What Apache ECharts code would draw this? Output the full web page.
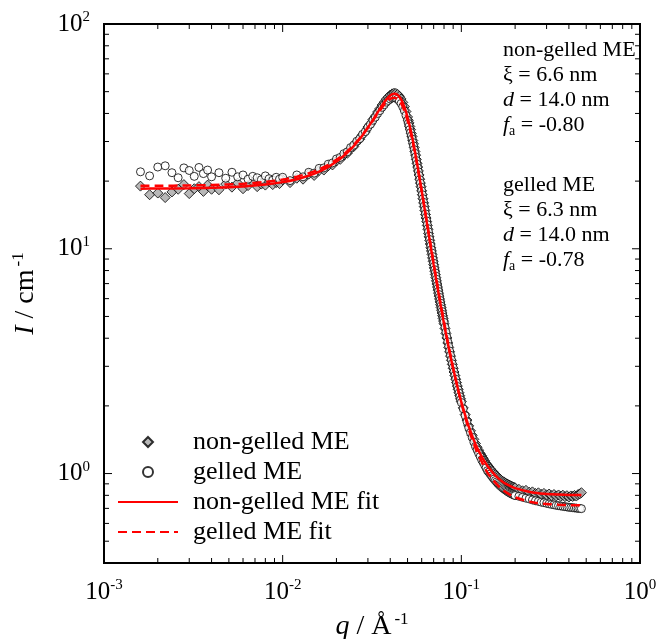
<!DOCTYPE html>
<html>
<head>
<meta charset="utf-8">
<script src="https://cdn.jsdelivr.net/npm/echarts@6.0.0/dist/echarts.min.js"></script>
<style>
  html, body { margin: 0; padding: 0; background: #fff; }
  #chart { width: 659px; height: 639px; }
</style>
</head>
<body>
<div id="chart"></div>
<script>
// measured q (1/Angstrom), same grid for both samples
const qData = [
  0.0016, 0.0018, 0.0020, 0.0022, 0.0024, 0.0026, 0.0028, 0.0030, 0.0032, 0.0034, 0.0036, 0.0038, 0.0040,
  0.0044, 0.0048, 0.0052, 0.0056, 0.0060, 0.0064, 0.0068, 0.0072, 0.0076, 0.0080, 0.0084, 0.0088, 0.0092, 0.0096,
  0.010, 0.011, 0.012, 0.013, 0.014, 0.015, 0.016, 0.017, 0.018, 0.019, 0.020, 0.021, 0.022, 0.023, 0.024,
  0.025, 0.026, 0.027, 0.028, 0.029, 0.030, 0.031, 0.032, 0.033, 0.034, 0.035, 0.036, 0.037, 0.038, 0.039,
  0.040, 0.041, 0.042, 0.043, 0.044, 0.045, 0.046, 0.047, 0.048, 0.049,
  0.0500, 0.0505, 0.0510, 0.0515, 0.0520, 0.0525, 0.0530, 0.0535, 0.0540, 0.0545, 0.0550, 0.0555, 0.0560,
  0.0565, 0.0570, 0.0575, 0.0580, 0.0585, 0.0590, 0.0595, 0.0600, 0.0605, 0.0610, 0.0615, 0.0620, 0.0625,
  0.0630, 0.0635, 0.0640, 0.0645, 0.0650, 0.0655, 0.0660, 0.0665, 0.0670, 0.0675, 0.0680, 0.0685, 0.0690,
  0.0695, 0.0700, 0.0705, 0.0710, 0.0715, 0.0720, 0.0725, 0.0730, 0.0735, 0.0740, 0.0745, 0.0750, 0.0755,
  0.0760, 0.0765, 0.0770, 0.0775, 0.0780, 0.0785, 0.0790, 0.0795, 0.0800,
  0.081, 0.082, 0.083, 0.084, 0.085, 0.086, 0.087, 0.088, 0.089, 0.090, 0.091, 0.092, 0.093, 0.094, 0.095,
  0.096, 0.097, 0.098, 0.099, 0.100,
  0.1025, 0.1050, 0.1075, 0.1100, 0.1125, 0.1150, 0.1175, 0.1200, 0.1225, 0.1250, 0.1275, 0.1300, 0.1325,
  0.1350, 0.1375, 0.1400, 0.1425, 0.1450, 0.1475, 0.1500, 0.1525, 0.1550, 0.1575, 0.1600, 0.1625, 0.1650,
  0.1675, 0.1700, 0.1725, 0.1750, 0.1775, 0.1800, 0.1825, 0.1850, 0.1875, 0.1900, 0.1925, 0.1950, 0.1975, 0.2000,
  0.21, 0.22, 0.23, 0.24, 0.25, 0.26, 0.27, 0.28, 0.29, 0.30, 0.31, 0.32, 0.33, 0.34, 0.35, 0.36, 0.37,
  0.38, 0.39, 0.40, 0.41, 0.42, 0.43, 0.44, 0.45, 0.46, 0.47
];

// I (1/cm), non-gelled ME
const iNonGelled = [
  19.0, 17.4, 17.7, 16.9, 17.9, 18.4, 19.3, 17.6, 18.5, 18.9, 18.0, 19.2, 18.4,
  18.3, 19.4, 18.8, 19.6, 18.5, 19.1, 19.8, 18.9, 19.4, 19.2, 19.9, 19.3, 19.7, 19.5,
  20.3, 19.7, 20.6, 20.4, 21.5, 21.2, 22.3, 22.4, 23.4, 23.6, 24.6, 25.0, 26.1, 26.6, 27.8,
  28.5, 29.9, 30.7, 32.2, 33.1, 34.8, 35.9, 37.6, 38.9, 40.6, 42.0, 43.6, 44.9, 46.3, 47.3,
  48.3, 48.9, 49.2, 49.1, 48.6, 47.7, 46.4, 44.8, 42.9, 40.8,
  38.6, 37.3, 36.3, 35.0, 33.9, 32.6, 31.6, 30.3, 29.3, 28.2, 27.1, 26.1, 25.0,
  24.0, 23.1, 22.2, 21.3, 20.4, 19.6, 18.9, 18.1, 17.4, 16.7, 16.0, 15.4, 14.8,
  14.2, 13.7, 13.2, 12.7, 12.2, 11.7, 11.3, 10.9, 10.5, 10.1, 9.78, 9.44, 9.11,
  8.80, 8.50, 8.22, 7.95, 7.69, 7.44, 7.20, 6.97, 6.76, 6.55, 6.35, 6.16, 5.98,
  5.80, 5.64, 5.48, 5.33, 5.18, 5.04, 4.90, 4.77, 4.64,
  4.42, 4.20, 4.01, 3.81, 3.64, 3.48, 3.33, 3.19, 3.06, 2.94, 2.83, 2.73, 2.63, 2.54, 2.45,
  2.37, 2.29, 2.22, 2.15, 2.09,
  1.96, 1.83, 1.73, 1.63, 1.55, 1.48, 1.42, 1.36, 1.31, 1.27, 1.23, 1.20, 1.17,
  1.14, 1.11, 1.09, 1.07, 1.05, 1.03, 1.02, 1.00, 0.988, 0.975, 0.962, 0.951, 0.942,
  0.933, 0.925, 0.918, 0.911, 0.905, 0.899, 0.894, 0.889, 0.884, 0.879, 0.875, 0.871, 0.867, 0.864,
  0.851, 0.838, 0.842, 0.826, 0.829, 0.815, 0.821, 0.808, 0.816, 0.804, 0.811, 0.798, 0.807, 0.795, 0.803, 0.792, 0.801,
  0.789, 0.797, 0.786, 0.795, 0.791, 0.799, 0.794, 0.806, 0.812, 0.822
];

// I (1/cm), gelled ME
const iGelled = [
  22.0, 21.1, 23.1, 23.4, 21.8, 20.7, 22.9, 22.3, 21.0, 23.0, 21.6, 22.4, 20.9,
  21.8, 20.6, 21.9, 20.9, 21.3, 20.4, 21.0, 20.7, 20.3, 21.1, 20.5, 20.2, 20.8, 20.4,
  20.8, 20.1, 21.3, 20.9, 21.9, 21.7, 22.8, 22.9, 23.8, 24.1, 25.1, 25.5, 26.5, 27.0, 28.2,
  28.9, 30.1, 30.9, 32.3, 33.2, 34.7, 35.8, 37.3, 38.5, 40.0, 41.2, 42.6, 43.7, 44.9, 45.7,
  46.4, 46.9, 47.0, 46.8, 46.3, 45.4, 44.3, 42.8, 41.1, 39.2,
  37.3, 36.1, 35.1, 33.9, 32.9, 31.8, 30.8, 29.7, 28.7, 27.6, 26.6, 25.6, 24.7,
  23.8, 22.9, 22.0, 21.2, 20.3, 19.6, 18.8, 18.1, 17.4, 16.7, 16.1, 15.5, 14.9,
  14.3, 13.8, 13.3, 12.8, 12.3, 11.9, 11.4, 11.0, 10.6, 10.3, 9.91, 9.57, 9.24,
  8.93, 8.63, 8.35, 8.07, 7.81, 7.56, 7.32, 7.09, 6.87, 6.66, 6.46, 6.26, 6.08,
  5.90, 5.73, 5.56, 5.41, 5.26, 5.11, 4.97, 4.84, 4.71,
  4.48, 4.26, 4.05, 3.86, 3.68, 3.51, 3.36, 3.21, 3.08, 2.96, 2.84, 2.73, 2.63, 2.53, 2.44,
  2.36, 2.28, 2.20, 2.13, 2.07,
  1.94, 1.81, 1.70, 1.60, 1.52, 1.45, 1.38, 1.32, 1.275, 1.23, 1.19, 1.15, 1.12,
  1.09, 1.06, 1.03, 1.015, 0.995, 0.977, 0.960, 0.945, 0.931, 0.917, 0.904, 0.893, 0.883,
  0.874, 0.865, 0.857, 0.850, 0.843, 0.836, 0.830, 0.824, 0.819, 0.814, 0.810, 0.806, 0.802, 0.798,
  0.792, 0.784, 0.777, 0.771, 0.763, 0.757, 0.752, 0.746, 0.742, 0.737, 0.733, 0.729, 0.726, 0.722, 0.720, 0.717, 0.715,
  0.712, 0.710, 0.708, 0.706, 0.705, 0.703, 0.702, 0.700, 0.699, 0.698
];

// fitted curves
const fitQ = [
  0.0016, 0.002, 0.003, 0.004, 0.006, 0.008,
  0.010, 0.012, 0.014, 0.016, 0.018, 0.020, 0.022, 0.024, 0.026, 0.028, 0.030, 0.032, 0.034, 0.036, 0.038,
  0.040, 0.042, 0.044, 0.046, 0.048, 0.050, 0.052, 0.054, 0.056, 0.058, 0.060, 0.062, 0.064, 0.066, 0.068,
  0.070, 0.072, 0.074, 0.076, 0.078, 0.080,
  0.084, 0.088, 0.092, 0.096, 0.100,
  0.110, 0.120, 0.130, 0.140, 0.150, 0.160, 0.170, 0.180,
  0.200, 0.250, 0.300, 0.350, 0.400, 0.470
];
const fitNonGelled = [
  18.51, 18.53, 18.59, 18.68, 18.94, 19.31,
  19.79, 20.40, 21.15, 22.06, 23.15, 24.43, 25.94, 27.69, 29.71, 32.02, 34.62, 37.46, 40.45, 43.42, 46.08,
  48.05, 48.91, 48.33, 46.22, 42.79, 38.48, 33.82, 29.23, 25.01, 21.28, 18.10, 15.41, 13.17, 11.32, 9.78,
  8.50, 7.44, 6.55, 5.80, 5.18, 4.64,
  3.80, 3.18, 2.72, 2.36, 2.08,
  1.62, 1.35, 1.19, 1.08, 1.01, 0.956, 0.920, 0.895,
  0.861, 0.824, 0.812, 0.806, 0.803, 0.802
];
const fitGelled = [
  19.05, 19.07, 19.13, 19.22, 19.47, 19.84,
  20.32, 20.92, 21.67, 22.57, 23.64, 24.90, 26.36, 28.05, 29.99, 32.17, 34.59, 37.21, 39.90, 42.52, 44.80,
  46.40, 47.00, 46.31, 44.31, 41.14, 37.21, 32.92, 28.66, 24.70, 21.16, 18.08, 15.48, 13.28, 11.44, 9.91,
  8.63, 7.56, 6.66, 5.90, 5.26, 4.71,
  3.85, 3.20, 2.72, 2.35, 2.06,
  1.58, 1.30, 1.13, 1.01, 0.94, 0.885, 0.847, 0.82,
  0.784, 0.745, 0.732, 0.727, 0.724, 0.722
];

// tick positions
const xMajorTicks = [0.001, 0.01, 0.1, 1];
const xMinorTicks = [0.002, 0.003, 0.004, 0.005, 0.006, 0.007, 0.008, 0.009,
  0.02, 0.03, 0.04, 0.05, 0.06, 0.07, 0.08, 0.09,
  0.2, 0.3, 0.4, 0.5, 0.6, 0.7, 0.8, 0.9];
const yMajorTicks = [1, 10, 100];
const yMinorTicks = [0.5, 0.6, 0.7, 0.8, 0.9, 2, 3, 4, 5, 6, 7, 8, 9,
  20, 30, 40, 50, 60, 70, 80, 90];

const xMin = 0.001, xMax = 1, yMin = 0.4, yMax = 100;

const serif = '"Liberation Serif", "Times New Roman", serif';
const box = { color: '#000', width: 2 };

const chart = echarts.init(document.getElementById('chart'));

function powLabel(v) {
  const e = Math.log10(v);
  const r = Math.round(e);
  if (Math.abs(e - r) > 1e-6) return '';
  return '{b|10}{s|' + r + '}';
}
const labelRich = {
  b: { fontFamily: serif, fontSize: 25, color: '#000', lineHeight: 28 },
  s: { fontFamily: serif, fontSize: 15, color: '#000', lineHeight: 20, verticalAlign: 'top' }
};
const nameRich = {
  i: { fontFamily: serif, fontSize: 28, fontStyle: 'italic', color: '#000', lineHeight: 32 },
  n: { fontFamily: serif, fontSize: 28, color: '#000', lineHeight: 32 },
  s: { fontFamily: serif, fontSize: 17, color: '#000', lineHeight: 22, verticalAlign: 'top', padding: [0, 0, 0, 3] }
};
const annoRich = {
  t: { fontFamily: serif, fontSize: 22, color: '#000', lineHeight: 25 },
  i: { fontFamily: serif, fontSize: 22, fontStyle: 'italic', color: '#000', lineHeight: 25 },
  sub: { fontFamily: serif, fontSize: 14, color: '#000', lineHeight: 8, verticalAlign: 'bottom' }
};

// inner ticks on all four sides, placed through the axes' own scales
function xTickSeries(values, len) {
  return {
    type: 'custom', silent: true, clip: false, z: 5,
    data: values.map(v => [v, yMin]),
    renderItem: function (params, api) {
      const v = api.value(0);
      const b = api.coord([v, yMin]);
      const t = api.coord([v, yMax]);
      return {
        type: 'group', children: [
          { type: 'line', shape: { x1: b[0], y1: b[1], x2: b[0], y2: b[1] - len }, style: { stroke: '#000', lineWidth: 1 } },
          { type: 'line', shape: { x1: t[0], y1: t[1], x2: t[0], y2: t[1] + len }, style: { stroke: '#000', lineWidth: 1 } }
        ]
      };
    }
  };
}
function yTickSeries(values, len) {
  return {
    type: 'custom', silent: true, clip: false, z: 5,
    data: values.map(v => [xMin, v]),
    renderItem: function (params, api) {
      const v = api.value(1);
      const l = api.coord([xMin, v]);
      const r = api.coord([xMax, v]);
      return {
        type: 'group', children: [
          { type: 'line', shape: { x1: l[0], y1: l[1], x2: l[0] + len, y2: l[1] }, style: { stroke: '#000', lineWidth: 1 } },
          { type: 'line', shape: { x1: r[0], y1: r[1], x2: r[0] - len, y2: r[1] }, style: { stroke: '#000', lineWidth: 1 } }
        ]
      };
    }
  };
}

const noMarker = { color: 'rgba(0,0,0,0)', borderColor: 'rgba(0,0,0,0)', opacity: 0 };

chart.setOption({
  animation: false,
  backgroundColor: '#fff',
  grid: {
    left: 104, right: 19, top: 24, bottom: 76, containLabel: false, outerBoundsMode: 'none',
    show: true, borderColor: '#000', borderWidth: 2, backgroundColor: 'transparent'
  },
  legend: {
    orient: 'vertical', left: 117, top: 427, padding: 0, itemGap: 0,
    itemWidth: 60, itemHeight: 10, selectedMode: false,
    textStyle: { fontFamily: serif, fontSize: 26, color: '#000', lineHeight: 30, padding: [0, 0, 0, 10] },
    data: [
      { name: 'non-gelled ME', icon: 'path://M5 0L10 5L5 10L0 5Z' },
      { name: 'gelled ME' },
      { name: 'non-gelled ME fit', itemStyle: noMarker },
      { name: 'gelled ME fit', itemStyle: noMarker }
    ]
  },
  xAxis: {
    type: 'log', logBase: 10, min: xMin, max: xMax, position: 'bottom',
    name: '{i|q}{n| / Å}{s|-1}', nameLocation: 'middle', nameGap: 48,
    nameTextStyle: { rich: nameRich },
    axisLine: { show: true, onZero: false, lineStyle: box },
    axisTick: { show: false },
    axisLabel: { formatter: powLabel, rich: labelRich, margin: 15, showMinLabel: true, showMaxLabel: true },
    splitLine: { show: false },
    minorTick: { show: false }
  },
  yAxis: {
    type: 'log', logBase: 10, min: yMin, max: yMax, position: 'left',
    name: '{i|I}{n| / cm}{s|-1}', nameLocation: 'middle', nameGap: 62,
    nameTextStyle: { rich: nameRich },
    axisLine: { show: true, onZero: false, lineStyle: box },
    axisTick: { show: false },
    axisLabel: { formatter: powLabel, rich: labelRich, margin: 14, showMinLabel: true, showMaxLabel: true },
    splitLine: { show: false },
    minorTick: { show: false }
  },
  graphic: [
    {
      type: 'text', x: 503, y: 38, silent: true,
      style: {
        text: '{t|non-gelled ME}\n{t|ξ = 6.6 nm}\n{i|d}{t| = 14.0 nm}\n{i|f}{sub|a}{t| = -0.80}',
        rich: annoRich
      }
    },
    {
      type: 'text', x: 503, y: 173, silent: true,
      style: {
        text: '{t|gelled ME}\n{t|ξ = 6.3 nm}\n{i|d}{t| = 14.0 nm}\n{i|f}{sub|a}{t| = -0.78}',
        rich: annoRich
      }
    }
  ],
  series: [
    {
      name: 'non-gelled ME', type: 'scatter', symbol: 'diamond', symbolSize: 10,
      itemStyle: { color: '#a6a6a6', borderColor: '#000', borderWidth: 1 },
      data: qData.map((q, i) => [q, iNonGelled[i]])
    },
    {
      name: 'gelled ME', type: 'scatter', symbol: 'circle', symbolSize: 8,
      itemStyle: { color: '#fff', borderColor: '#000', borderWidth: 1 },
      data: qData.map((q, i) => [q, iGelled[i]])
    },
    {
      name: 'non-gelled ME fit', type: 'line', symbol: 'none', smooth: 0.3,
      lineStyle: { color: '#ff0000', width: 2.5 },
      itemStyle: { color: '#ff0000' },
      data: fitQ.map((q, i) => [q, fitNonGelled[i]])
    },
    {
      name: 'gelled ME fit', type: 'line', symbol: 'none', smooth: 0.3,
      lineStyle: { color: '#ff0000', width: 2.5, type: [9, 5] },
      itemStyle: { color: '#ff0000' },
      data: fitQ.map((q, i) => [q, fitGelled[i]])
    },
    xTickSeries(xMajorTicks, 8),
    xTickSeries(xMinorTicks, 5),
    yTickSeries(yMajorTicks, 8),
    yTickSeries(yMinorTicks, 5)
  ]
});
</script>
</body>
</html>
